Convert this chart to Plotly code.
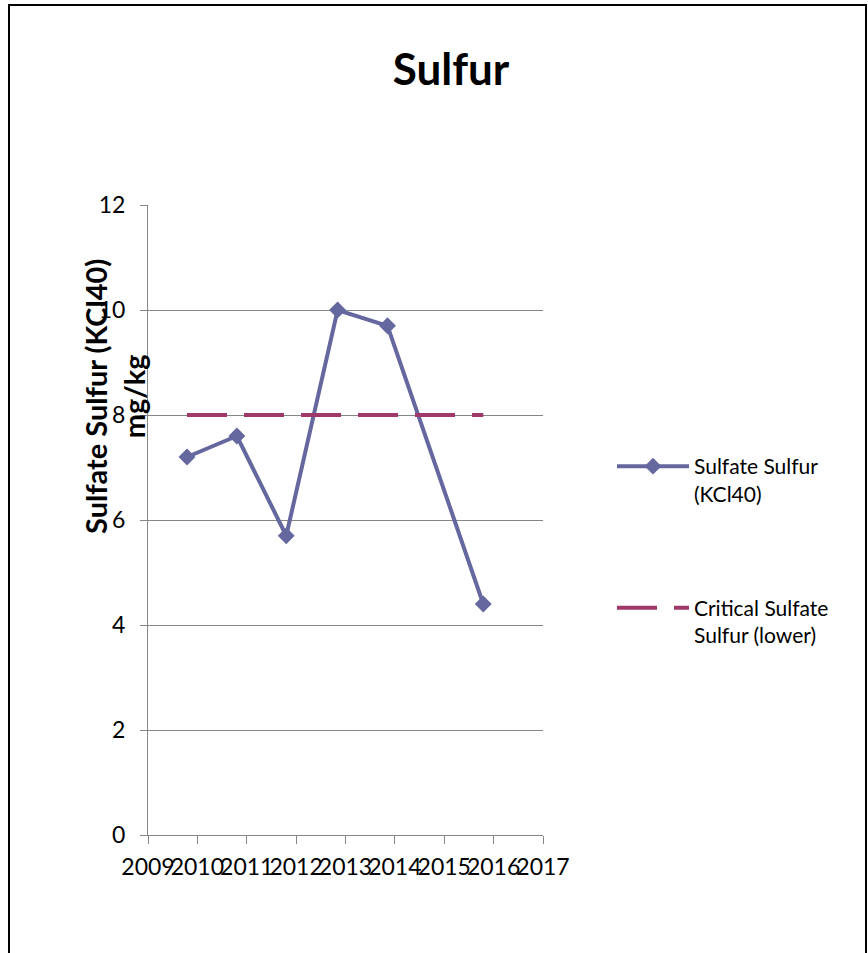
import plotly.graph_objects as go

# Data
sample_year = [2009.79, 2010.80, 2011.80, 2012.84, 2013.85, 2015.79]
sulfate_sulfur = [7.2, 7.6, 5.7, 10.0, 9.7, 4.4]
critical_lower = [8, 8, 8, 8, 8, 8]
x_ticks = [2009, 2010, 2011, 2012, 2013, 2014, 2015, 2016, 2017]
y_ticks = [0, 2, 4, 6, 8, 10, 12]

W, H = 868, 953
L, R, T, B = 148, 543, 205, 835
pw, ph = R - L, B - T

def px(x):
    return (x - L) / pw

def py(y):
    return (B - y) / ph

FONT = "Lato"
fig = go.Figure()
fig.add_trace(go.Scatter(
    x=sample_year, y=sulfate_sulfur, mode="lines+markers",
    name="Sulfate Sulfur<br>(KCl40)", legendgroup="a",
    line=dict(color="#65679F", width=4),
    marker=dict(symbol="diamond", size=13, color="#65679F"),
))
fig.add_trace(go.Scatter(
    x=sample_year, y=critical_lower, mode="lines",
    name="Critical Sulfate<br>Sulfur (lower)", legendgroup="b",
    line=dict(color="#A0386A", width=4, dash="40px,17px"),
))

fig.update_layout(
    width=W, height=H,
    margin=dict(l=L, r=W - R, t=T, b=H - B, pad=0),
    paper_bgcolor="white", plot_bgcolor="white",
    font=dict(family=FONT, color="black"),
    title=dict(text="<b>Sulfur</b>", x=px(451), xref="paper", xanchor="center",
               y=1 - 70 / H, yanchor="middle", font=dict(size=44, family=FONT)),
    showlegend=True,
    legend=dict(x=px(612), y=py(446), xanchor="left", yanchor="top",
                traceorder="grouped", tracegroupgap=84, valign="top",
                font=dict(size=21, family=FONT), bgcolor="rgba(0,0,0,0)",
                itemwidth=72),
    shapes=[dict(type="rect", xref="paper", yref="paper",
                 x0=px(9), x1=px(866), y0=py(965), y1=py(5),
                 line=dict(color="black", width=2), layer="below")],
    annotations=[dict(text="<b>Sulfate Sulfur (KCl40)<br>mg/kg</b>", textangle=-90,
                      xref="paper", yref="paper", x=px(114), y=py(397),
                      xanchor="center", yanchor="middle", showarrow=False,
                      font=dict(size=29, family=FONT))],
)
fig.update_xaxes(range=[2009, 2017], tickvals=x_ticks, ticktext=[str(v) for v in x_ticks],
                 tickangle=0, showgrid=False, zeroline=False,
                 showline=True, linecolor="#868686", linewidth=1,
                 ticks="outside", ticklen=8, tickcolor="#868686",
                 ticklabelstandoff=3,
                 tickfont=dict(size=23, family=FONT))
fig.update_yaxes(range=[0, 12], tickvals=y_ticks, showgrid=True, gridcolor="#868686",
                 gridwidth=1, zeroline=False, showline=True, linecolor="#868686",
                 linewidth=1, ticks="outside", ticklen=7, tickcolor="#868686",
                 ticklabelstandoff=10,
                 tickfont=dict(size=23, family=FONT))

fig.write_html("out.html", config={"displayModeBar": False},
               post_script="document.body.style.margin='0px';document.body.style.overflow='hidden';")
